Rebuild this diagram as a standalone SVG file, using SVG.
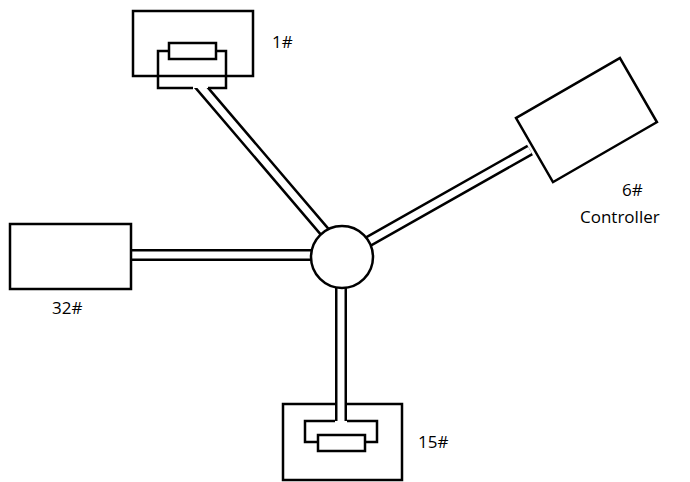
<svg xmlns="http://www.w3.org/2000/svg" width="690" height="482" viewBox="0 0 690 482">
<style>
.b{fill:#fff;stroke:#000;stroke-width:2.5}
.o{fill:none;stroke:#000;stroke-width:2.5}
.po{stroke:#000;stroke-width:12;fill:none}
.pi{stroke:#fff;stroke-width:7;fill:none}
text{font-family:"Open Sans","Liberation Sans",sans-serif;font-size:17px;fill:#000}
</style>
<rect width="690" height="482" fill="#fff"/>
<g id="connectors">
<path class="po" d="M190 74L330 238M341 257L530 150M131 255L320 255M341 257V440"/>
<path class="pi" d="M190 74L330 238M341 257L530 150M129 255L320 255M341 257V440"/>
</g>
<g id="n1">
<rect class="b" x="133" y="11" width="120" height="65"/>
<rect x="158" y="51" width="68" height="37" fill="#fff"/>
<path class="o" d="M193 88H158V51H226V88H208M158 76H226"/>
<rect class="b" x="169" y="43" width="47" height="16"/>
<text x="272" y="48">1#</text>
</g>
<g id="n6">
<rect class="b" x="0" y="0" width="120" height="74" transform="translate(516 118) rotate(-30)"/>
<text x="622" y="196">6#</text>
<text x="580" y="223">Controller</text>
</g>
<g id="n32">
<rect class="b" x="10" y="224" width="121" height="65"/>
<text x="52" y="314">32#</text>
</g>
<g id="n15">
<path class="o" d="M335 404H283V480H402V404H347"/>
<rect x="305" y="421" width="72" height="21" fill="#fff"/>
<path class="o" d="M335 421H305V442H377V421H347"/>
<rect class="b" x="318" y="435" width="47" height="16"/>
<text x="418" y="448">15#</text>
</g>
<g id="hub">
<circle class="b" cx="342" cy="257" r="31"/>
</g>
</svg>
